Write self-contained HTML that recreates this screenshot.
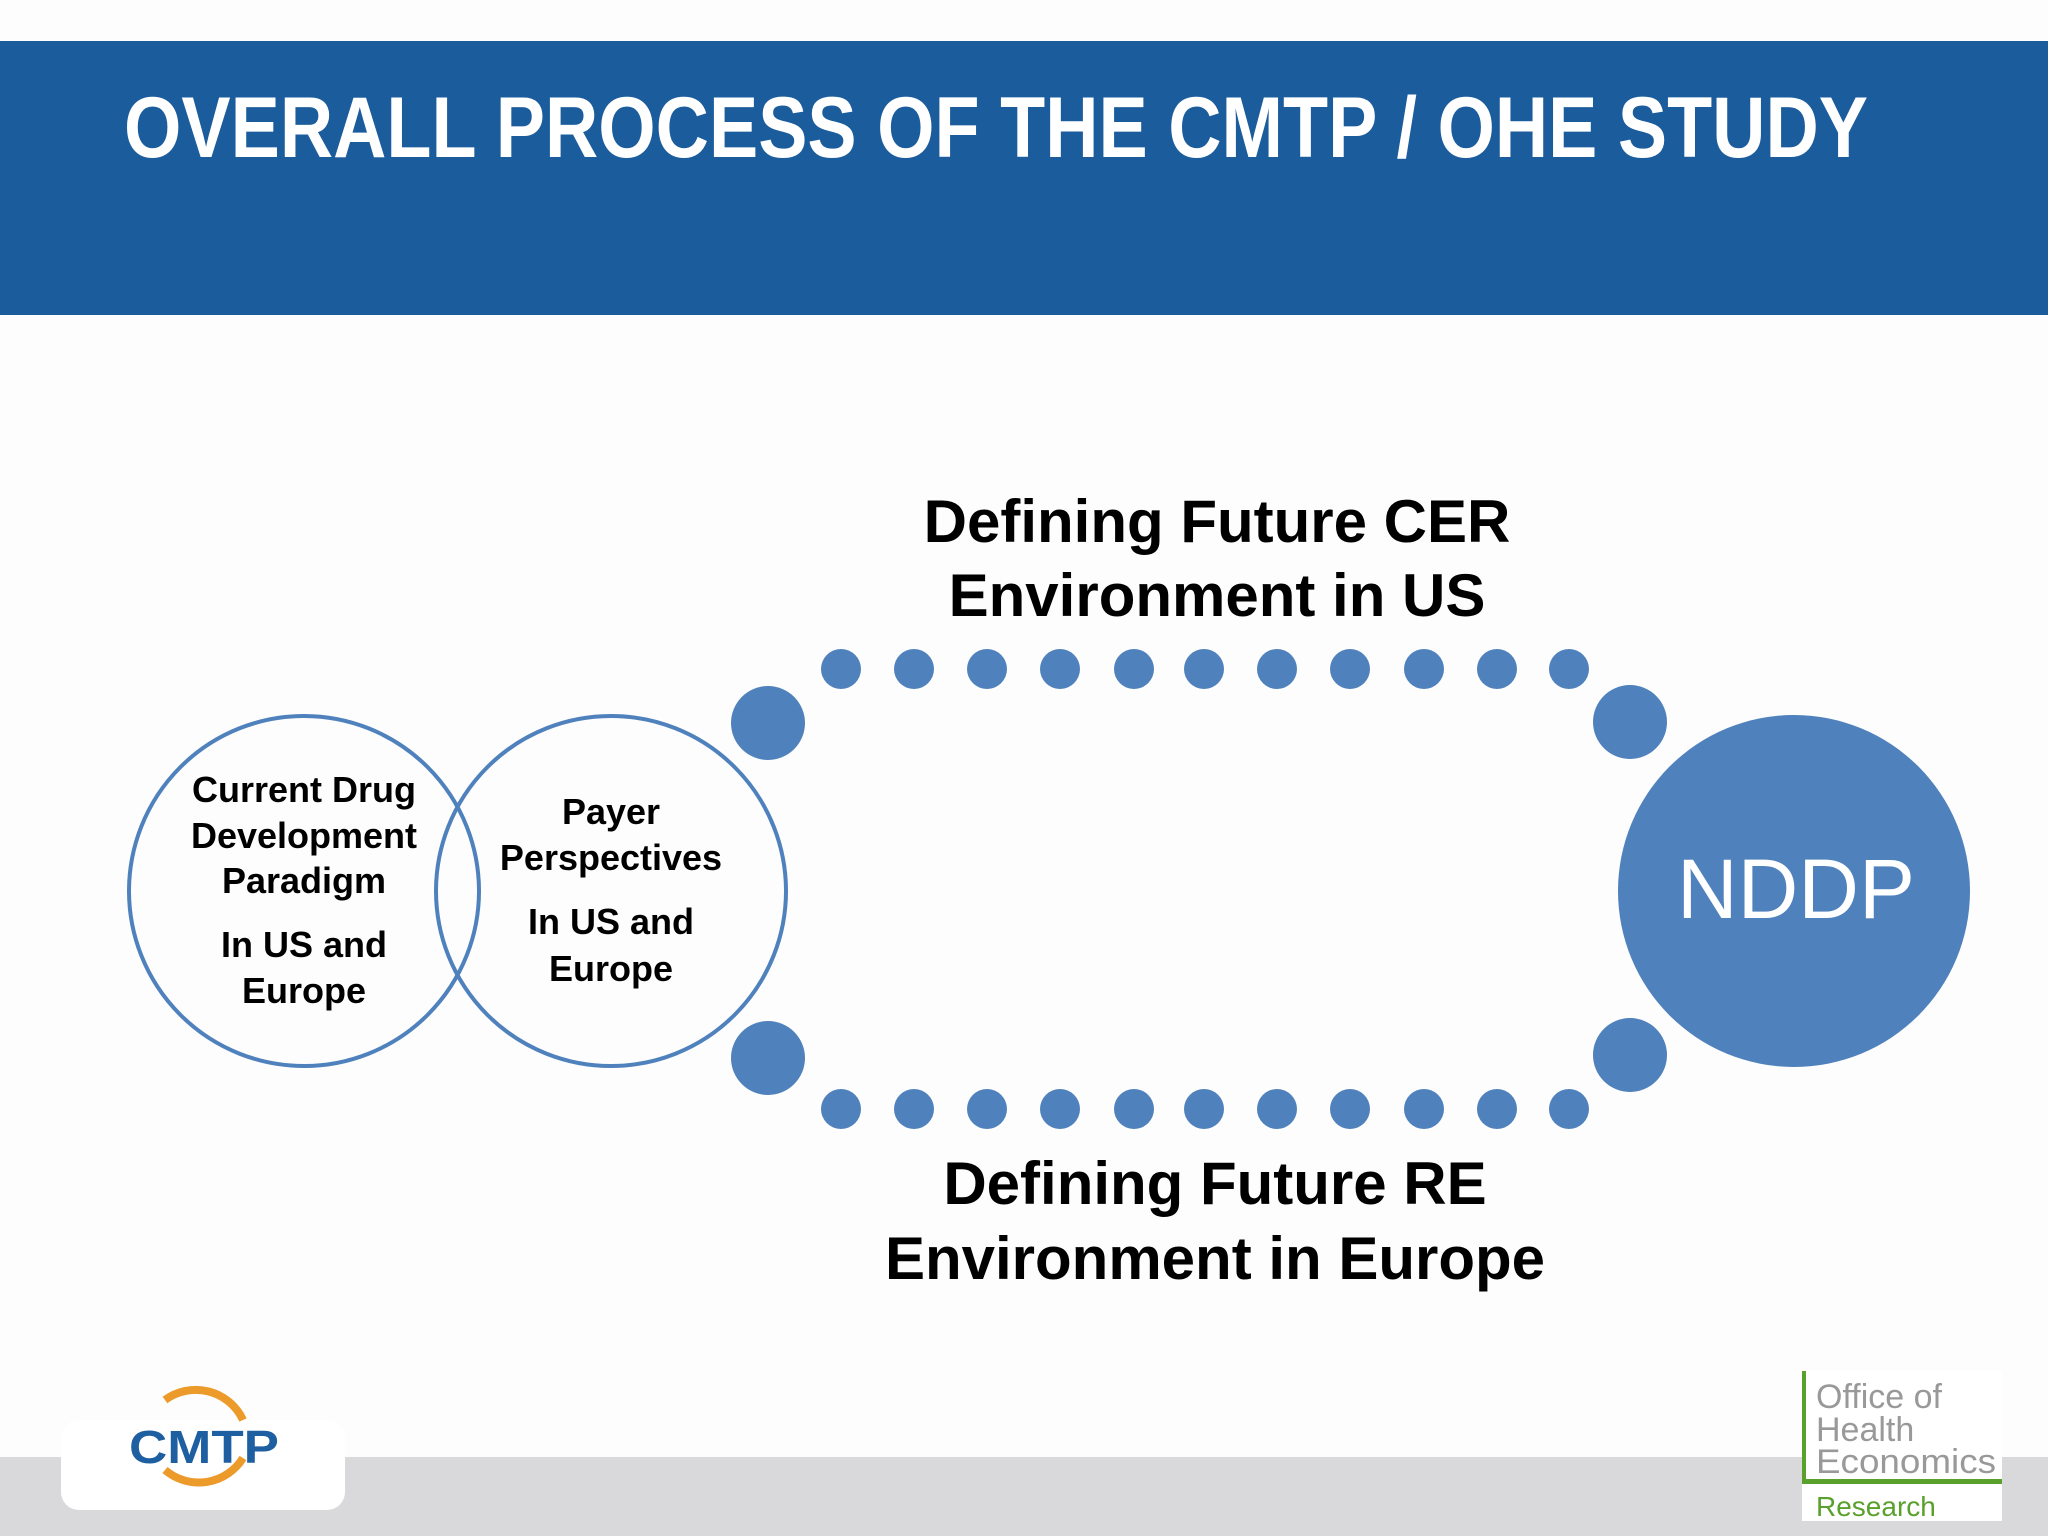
<!DOCTYPE html>
<html><head><meta charset="utf-8"><style>html,body{margin:0;padding:0;background:#fdfdfd}svg{display:block}</style></head><body>
<svg width="2048" height="1536" viewBox="0 0 2048 1536" xmlns="http://www.w3.org/2000/svg" font-family="'Liberation Sans', sans-serif">
<rect width="2048" height="1536" fill="#fdfdfd"/>
<rect x="0" y="41" width="2048" height="274" fill="#1b5c9c"/>
<text x="124" y="157" font-size="86" font-weight="bold" fill="#fff" textLength="1744" lengthAdjust="spacingAndGlyphs">OVERALL PROCESS OF THE CMTP / OHE STUDY</text>
<rect x="0" y="1457" width="2048" height="79" fill="#d9d8db"/>
<rect x="61" y="1420" width="284" height="90" rx="18" fill="#fff"/>
<path d="M165 1400 A52 52 0 0 1 243 1420" stroke="#ec9a2a" stroke-width="8" fill="none"/>
<path d="M165 1470 A52 52 0 0 0 243 1458" stroke="#ec9a2a" stroke-width="8" fill="none"/>
<text x="204" y="1463" font-size="46" font-weight="bold" fill="#1d5fa0" text-anchor="middle" textLength="150" lengthAdjust="spacingAndGlyphs">CMTP</text>
<rect x="1802" y="1371" width="200" height="150" fill="#fff"/>
<rect x="1802" y="1371" width="4" height="112" fill="#5aa02c"/>
<rect x="1802" y="1479" width="200" height="5" fill="#5aa02c"/>
<text x="1816" y="1408" font-size="34" fill="#999">Office of</text>
<text x="1816" y="1441" font-size="34" fill="#999">Health</text>
<text x="1816" y="1473" font-size="34" fill="#999" textLength="180" lengthAdjust="spacingAndGlyphs">Economics</text>
<text x="1816" y="1516" font-size="28" fill="#5aa02c">Research</text>
<g fill="none" stroke="#4f81bd" stroke-width="4">
<circle cx="304" cy="891" r="175"/>
<circle cx="611" cy="891" r="175"/>
</g>
<g fill="#000" font-weight="bold" font-size="36" text-anchor="middle">
<text x="304" y="802">Current Drug</text>
<text x="304" y="848">Development</text>
<text x="304" y="893">Paradigm</text>
<text x="304" y="957">In US and</text>
<text x="304" y="1003">Europe</text>
<text x="611" y="824">Payer</text>
<text x="611" y="870">Perspectives</text>
<text x="611" y="934">In US and</text>
<text x="611" y="981">Europe</text>
</g>
<g fill="#4f81bd">
<circle cx="841" cy="669" r="20"/><circle cx="914" cy="669" r="20"/><circle cx="987" cy="669" r="20"/><circle cx="1060" cy="669" r="20"/><circle cx="1134" cy="669" r="20"/><circle cx="1204" cy="669" r="20"/><circle cx="1277" cy="669" r="20"/><circle cx="1350" cy="669" r="20"/><circle cx="1424" cy="669" r="20"/><circle cx="1497" cy="669" r="20"/><circle cx="1569" cy="669" r="20"/>
<circle cx="841" cy="1109" r="20"/><circle cx="914" cy="1109" r="20"/><circle cx="987" cy="1109" r="20"/><circle cx="1060" cy="1109" r="20"/><circle cx="1134" cy="1109" r="20"/><circle cx="1204" cy="1109" r="20"/><circle cx="1277" cy="1109" r="20"/><circle cx="1350" cy="1109" r="20"/><circle cx="1424" cy="1109" r="20"/><circle cx="1497" cy="1109" r="20"/><circle cx="1569" cy="1109" r="20"/>
<circle cx="768" cy="723" r="37"/><circle cx="1630" cy="722" r="37"/><circle cx="768" cy="1058" r="37"/><circle cx="1630" cy="1055" r="37"/>
<circle cx="1794" cy="891" r="176"/>
</g>
<text x="1796" y="918" font-size="84" fill="#fff" text-anchor="middle">NDDP</text>
<g fill="#000" font-weight="bold" font-size="60" text-anchor="middle">
<text x="1217" y="542">Defining Future CER</text>
<text x="1217" y="616">Environment in US</text>
<text x="1215" y="1204">Defining Future RE</text>
<text x="1215" y="1279">Environment in Europe</text>
</g>
</svg>
</body></html>
